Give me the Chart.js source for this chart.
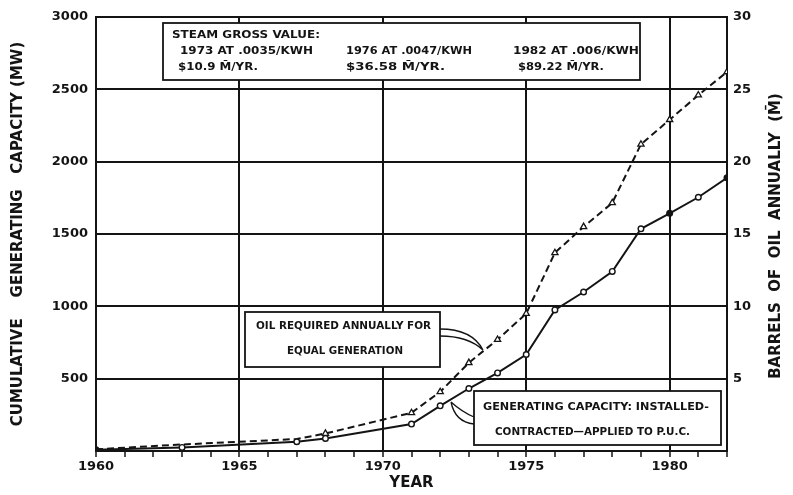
<!DOCTYPE html>
<html>
<head>
<meta charset="utf-8">
<script src="https://cdn.jsdelivr.net/npm/chart.js@4.4.1/dist/chart.umd.min.js"></script>
<style>
  html, body { margin: 0; padding: 0; background: #ffffff; }
  #wrap { width: 793px; height: 495px; position: relative; }
</style>
</head>
<body>
<div id="wrap"><canvas id="c" width="793" height="495"></canvas></div>
<script>
// ---- data ----
const years = [1960, 1963, 1967, 1968, 1971, 1972, 1973, 1974, 1975, 1976, 1977, 1978, 1979, 1980, 1981, 1982];
const capacityMW = [8, 25, 64, 87, 186, 312, 432, 540, 667, 975, 1099, 1241, 1536, 1643, 1754, 1888];
const oilMillionBarrels = [0.12, 0.45, 0.83, 1.21, 2.64, 4.09, 6.1, 7.7, 9.5, 13.7, 15.5, 17.15, 21.2, 22.9, 24.6, 26.2];
const xTickLabels = [1960, 1965, 1970, 1975, 1980];
const leftTickLabels = [500, 1000, 1500, 2000, 2500, 3000];
const rightTickLabels = [5, 10, 15, 20, 25, 30];

const INK = '#141414';
const FONT = "'DejaVu Sans', 'Liberation Sans', sans-serif";

const capacityPoints = years.map((y, i) => ({ x: y, y: capacityMW[i] }));
const oilPoints = years.map((y, i) => ({ x: y, y: oilMillionBarrels[i] }));

// filled dots at a few years, open elsewhere (as in the reference)
const filledYears = [1960, 1980, 1982];
const capFill = years.map(y => filledYears.includes(y) ? INK : '#ffffff');
const oilRadius = years.map(y => y < 1968 ? 0 : 3.6);

function fitText(ctx, str, x, cy, w) {
  const m = ctx.measureText(str).width;
  const s = w / m;
  ctx.save();
  ctx.translate(x, cy);
  ctx.scale(s, 1);
  ctx.textAlign = 'left';
  ctx.textBaseline = 'middle';
  ctx.fillText(str, 0, 0);
  ctx.restore();
}

const annotations = {
  id: 'annotations',
  afterDraw(chart) {
    const ctx = chart.ctx;
    ctx.save();
    ctx.strokeStyle = INK;
    ctx.fillStyle = '#ffffff';
    ctx.lineWidth = 1.8;

    // box 1 : steam gross value
    ctx.fillRect(163, 23, 477, 57);
    ctx.strokeRect(163, 23, 477, 57);
    // box 2 : oil required
    ctx.fillRect(245, 312, 195, 55);
    ctx.strokeRect(245, 312, 195, 55);
    // box 3 : generating capacity
    ctx.fillRect(474, 391, 247, 54);
    ctx.strokeRect(474, 391, 247, 54);

    // leader lines
    ctx.lineWidth = 1.3;
    ctx.beginPath();
    ctx.moveTo(440, 329); ctx.quadraticCurveTo(472, 329, 483, 350);
    ctx.moveTo(440, 336); ctx.quadraticCurveTo(468, 336, 483, 350);
    ctx.moveTo(474, 424); ctx.quadraticCurveTo(455, 422, 451, 402);
    ctx.moveTo(474, 417); ctx.quadraticCurveTo(462, 412, 451, 402);
    ctx.stroke();

    ctx.fillStyle = INK;
    ctx.font = 'bold 11px ' + FONT;
    fitText(ctx, 'STEAM GROSS VALUE:', 172, 35, 148);
    fitText(ctx, '1973 AT .0035/KWH', 180, 51, 133);
    fitText(ctx, '$10.9 M\u0304/YR.', 178, 67, 80);
    fitText(ctx, '1976 AT .0047/KWH', 346, 51, 126);
    fitText(ctx, '$36.58 M\u0304/YR.', 346, 67, 99);
    fitText(ctx, '1982 AT .006/KWH', 513, 51, 126);
    fitText(ctx, '$89.22 M\u0304/YR.', 518, 67, 86);

    ctx.font = 'bold 10px ' + FONT;
    fitText(ctx, 'OIL REQUIRED ANNUALLY FOR', 256, 326, 175);
    fitText(ctx, 'EQUAL GENERATION', 287, 351, 116);
    fitText(ctx, 'GENERATING CAPACITY: INSTALLED-', 483, 407, 226);
    fitText(ctx, 'CONTRACTED\u2014APPLIED TO P.U.C.', 495, 432, 195);

    // right axis title (reads bottom to top)
    ctx.font = 'bold 15px ' + FONT;
    ctx.save();
    ctx.translate(776, 236);
    ctx.rotate(-Math.PI / 2);
    ctx.textAlign = 'center';
    ctx.textBaseline = 'middle';
    ctx.fillText('BARRELS  OF  OIL  ANNUALLY  (M\u0304)', 0, 0);
    ctx.restore();
    ctx.restore();
  }
};

new Chart(document.getElementById('c'), {
  type: 'line',
  data: {
    datasets: [
      {
        label: 'Generating capacity',
        data: capacityPoints,
        yAxisID: 'y',
        borderColor: INK,
        borderWidth: 2,
        pointStyle: 'circle',
        pointRadius: 2.8,
        pointBackgroundColor: capFill,
        pointBorderColor: INK,
        pointBorderWidth: 1.4,
        tension: 0,
        fill: false
      },
      {
        label: 'Oil required',
        data: oilPoints,
        yAxisID: 'y2',
        borderColor: INK,
        borderWidth: 2,
        borderDash: [7, 4],
        pointStyle: 'triangle',
        pointRadius: oilRadius,
        pointBackgroundColor: '#ffffff',
        pointBorderColor: INK,
        pointBorderWidth: 1.3,
        tension: 0,
        fill: false
      }
    ]
  },
  options: {
    responsive: false,
    animation: false,
    devicePixelRatio: 1,
    layout: { padding: { top: 17, left: 0, right: 0, bottom: 0 } },
    plugins: { legend: { display: false }, tooltip: { enabled: false } },
    scales: {
      x: {
        type: 'linear',
        min: 1960, max: 1982,
        afterFit(s) { s.height = 44; },
        ticks: {
          stepSize: 1, autoSkip: false, maxRotation: 0, padding: 2,
          color: INK, font: { family: FONT, size: 13, weight: 'bold' },
          callback: v => xTickLabels.includes(v) ? String(v) : ''
        },
        grid: {
          color: c => (c.tick && c.tick.value % 5 === 0) ? INK : 'rgba(0,0,0,0)',
          lineWidth: 2,
          tickColor: INK, tickLength: 6, tickWidth: 1.5
        },
        border: { color: INK, width: 2 },
        title: {
          display: true, text: 'YEAR', color: INK,
          font: { family: FONT, size: 15, weight: 'bold' },
          padding: { top: 0, bottom: 3 }
        }
      },
      y: {
        position: 'left',
        min: 0, max: 3000,
        afterFit(s) { s.width = 96; },
        ticks: {
          stepSize: 500, padding: 8, color: INK,
          font: { family: FONT, size: 13, weight: 'bold' },
          callback: v => leftTickLabels.includes(v) ? String(v) : ''
        },
        grid: { color: INK, lineWidth: 2, drawTicks: false },
        border: { color: INK, width: 2 },
        title: {
          display: true, text: 'CUMULATIVE    GENERATING   CAPACITY (MW)', color: INK,
          font: { family: FONT, size: 15, weight: 'bold' },
          padding: { top: 9, bottom: 0 }
        }
      },
      y2: {
        position: 'right',
        min: 0, max: 30,
        afterFit(s) { s.width = 66; },
        ticks: {
          stepSize: 5, padding: 6, color: INK,
          font: { family: FONT, size: 13, weight: 'bold' },
          callback: v => rightTickLabels.includes(v) ? String(v) : ''
        },
        grid: { drawOnChartArea: false, drawTicks: false },
        border: { color: INK, width: 2 }
      }
    }
  },
  plugins: [annotations]
});
</script>
</body>
</html>
